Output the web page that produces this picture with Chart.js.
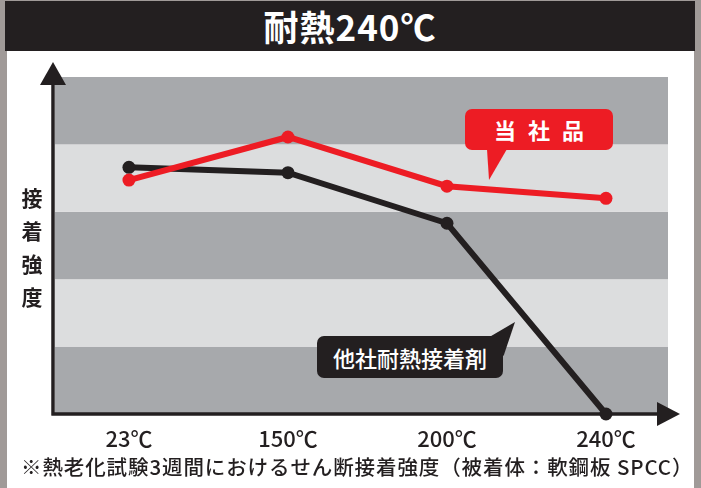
<!DOCTYPE html>
<html>
<head>
<meta charset="utf-8">
<script src="https://cdn.jsdelivr.net/npm/chart.js@4.4.0/dist/chart.umd.min.js"></script>
<style>
  html, body { margin: 0; padding: 0; }
  body { width: 701px; height: 488px; position: relative; overflow: hidden;
         background: #a09a98; font-family: "Noto Sans CJK JP", "Noto Sans", sans-serif; }
  #panel { position: absolute; left: 7px; top: 51px; width: 687px; height: 437px; background: #fff; }
  #title { position: absolute; left: 5px; top: 1px; width: 690px; height: 50px; background: #231f20;
           color: #fff; font-weight: bold; font-size: 35px; line-height: 50px; text-align: center; letter-spacing: 1px; }
  #wrap { position: absolute; left: 0; top: 0; width: 701px; height: 488px; }
  #ylabel { position: absolute; left: 20px; top: 181px; width: 24px; color: #231f20; font-weight: bold;
            font-size: 21px; line-height: 33px; text-align: center; }
  .box { position: absolute; color: #fff; text-align: center; border-radius: 7px; }
  #ours { left: 465px; top: 109px; width: 148px; height: 41px; line-height: 41px; background: #ed1c24;
          font-weight: bold; font-size: 22px; letter-spacing: 12px; text-indent: 12px; }
  #others { left: 317px; top: 336px; width: 186px; height: 42px; line-height: 42px; background: #231f20;
            font-weight: 500; font-size: 22px; }
  .tail { position: absolute; }
  #note { position: absolute; left: 21px; top: 452px; width: 675px; color: #231f20; font-size: 20.5px;
          font-weight: 500; letter-spacing: 0.9px; line-height: 28px; white-space: nowrap; }
</style>
</head>
<body>
<div id="panel"></div>
<div id="title">耐熱240℃</div>
<div id="wrap"><canvas id="lineChart"></canvas></div>
<div id="ylabel">接<br>着<br>強<br>度</div>
<div class="tail" style="left:487px;top:149px;width:20px;height:31px;background:#ed1c24;clip-path:polygon(0 0,100% 0,10% 100%);"></div>
<div class="box" id="ours">当社品</div>
<div class="tail" style="left:489px;top:322px;width:26px;height:34px;background:#231f20;clip-path:polygon(0 45%,56% 100%,100% 0);"></div>
<div class="box" id="others">他社耐熱接着剤</div>
<div id="note">※熱老化試験3週間におけるせん断接着強度（被着体：軟鋼板 SPCC）</div>

<script>
var categories = ['23℃', '150℃', '200℃', '240℃'];
var ourProduct = [3.47, 4.11, 3.38, 3.20];      // 当社品
var otherProduct = [3.66, 3.58, 2.83, 0];       // 他社耐熱接着剤
var bandValues = [0, 1, 2, 3, 4, 5];

function toPoints(values) {
  return values.map(function (v, i) { return { x: i, y: v }; });
}

// grey bands + arrow axes behind the lines
var backdrop = {
  id: 'backdrop',
  beforeDatasetsDraw: function (chart) {
    var ctx = chart.ctx;
    var area = chart.chartArea;
    var y = chart.scales.y;
    ctx.save();
    for (var i = 0; i < bandValues.length - 1; i++) {
      var top = y.getPixelForValue(bandValues[i + 1]);
      var bottom = y.getPixelForValue(bandValues[i]);
      ctx.fillStyle = (i % 2 === 0) ? '#a7a9ac' : '#dcddde';
      ctx.fillRect(area.left, top, area.right - area.left, bottom - top);
    }
    var x0 = area.left - 2;
    var y0 = y.getPixelForValue(0);
    ctx.strokeStyle = '#231f20';
    ctx.fillStyle = '#231f20';
    ctx.lineWidth = 3.5;
    ctx.beginPath();
    ctx.moveTo(x0, y0 + 1.5);
    ctx.lineTo(x0, area.top + 4);
    ctx.moveTo(x0 - 1.5, y0);
    ctx.lineTo(area.right - 8, y0);
    ctx.stroke();
    ctx.beginPath();
    ctx.moveTo(x0 - 13, area.top + 8);
    ctx.lineTo(x0 + 13, area.top + 8);
    ctx.lineTo(x0, area.top - 15);
    ctx.closePath();
    ctx.fill();
    ctx.beginPath();
    ctx.moveTo(area.right - 11, y0 - 12);
    ctx.lineTo(area.right - 11, y0 + 12);
    ctx.lineTo(area.right + 12, y0);
    ctx.closePath();
    ctx.fill();
    ctx.restore();
  }
};

var lineCanvas = document.getElementById('lineChart').getContext('2d');

new Chart(lineCanvas, {
  type: 'line',
  data: {
    datasets: [
      {
        label: '当社品',
        data: toPoints(ourProduct),
        borderColor: '#ed1c24',
        backgroundColor: '#ed1c24',
        borderWidth: 6,
        pointRadius: 6.5,
        pointBorderWidth: 0,
        clip: false
      },
      {
        label: '他社耐熱接着剤',
        data: toPoints(otherProduct),
        borderColor: '#231f20',
        backgroundColor: '#231f20',
        borderWidth: 6,
        pointRadius: 6.5,
        pointBorderWidth: 0,
        clip: false
      }
    ]
  },
  options: {
    responsive: true,
    maintainAspectRatio: false,
    animation: false,
    devicePixelRatio: 1,
    layout: { padding: { left: 55, right: 33, top: 77, bottom: 34 } },
    plugins: { legend: { display: false }, tooltip: { enabled: false }, title: { display: false } },
    scales: {
      x: {
        type: 'linear',
        min: -0.465,
        max: 3.39,
        grid: { display: false, drawTicks: false },
        border: { display: false },
        afterBuildTicks: function (scale) {
          scale.ticks = categories.map(function (c, i) { return { value: i }; });
        },
        afterFit: function (scale) { scale.height = 40; },
        ticks: {
          padding: 11,
          color: '#231f20',
          font: { family: '"Noto Sans CJK JP"', size: 22, weight: '500' },
          callback: function (value) { return categories[value]; }
        }
      },
      y: {
        display: false,
        min: 0,
        max: 5
      }
    }
  },
  plugins: [backdrop]
});
</script>
</body>
</html>
